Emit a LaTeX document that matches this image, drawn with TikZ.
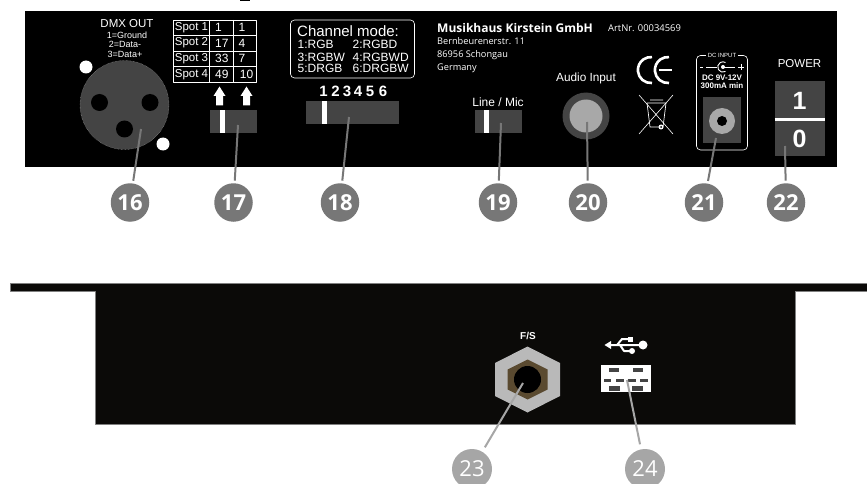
\documentclass[tikz,border=0pt]{standalone}
\usepackage{fontspec}
\setmainfont{Liberation Sans}
\newfontfamily\labelfont{Open Sans}
\newcommand{\fsize}[1]{\fontsize{#1}{#1}\selectfont}
\definecolor{panelblack}{HTML}{000000}
\definecolor{lowerblack}{HTML}{0B0A08}
\definecolor{slidergray}{HTML}{444444}
\definecolor{pingray}{HTML}{777777}
\definecolor{pinlight}{HTML}{A6A6A6}
\definecolor{jackgray}{HTML}{A8A8A8}
\definecolor{nutbrown}{HTML}{5A4A30}
\tikzset{
	paneltext/.style={text=white,inner sep=0pt},
	slider/.style={fill=slidergray,draw=none},
	callout/.style={circle,fill=pingray,text=white,inner sep=0pt,minimum size=38.5pt,font=\labelfont\fsize{22}\bfseries},
	calloutlight/.style={circle,fill=pinlight,text=white,inner sep=0pt,minimum size=40pt,font=\labelfont\fsize{22}},
	leader/.style={draw=pingray,line width=2pt,shorten >=2.5pt},
	leaderlight/.style={draw=pinlight,line width=2pt,shorten >=5pt},
}
\begin{document}
\begin{tikzpicture}[x=1pt,y=-1pt,line join=round]
	\useasboundingbox (0,0) rectangle (867,484);
	\fill (240,0) rectangle (250,1.5);
	% upper panel
	\fill[panelblack] (25,11) rectangle (837,167);
	% dmx socket
	\node[paneltext,font=\fsize{11.5}] (dmxtitle) at (127,24) {DMX OUT};
	\node[paneltext,font=\fsize{9}] (dmxa) at (127,35) {1=Ground};
	\node[paneltext,font=\fsize{9}] (dmxb) at (125,44.5) {2=Data-};
	\node[paneltext,font=\fsize{9}] (dmxc) at (125,54) {3=Data+};
	\fill[white] (86,67) circle (6.5) (163,144) circle (6.5);
	\draw[fill=slidergray,draw=pinlight,densely dotted,line width=.4pt] (124.5,105) circle (44.5);
	\fill[black] (99.5,102.5) circle (8.5) (150,102.5) circle (8.5) (124.5,129) circle (8.5);
	% address table
	\draw[white,line width=.6pt] (173.5,20) rectangle (256.5,82);
	\foreach \y in {35,51,66.5} \draw[white,line width=.6pt] (173.5,\y) -- (256.5,\y);
	\foreach \x in {209,233} \draw[white,line width=.6pt] (\x,20) -- (\x,82);
	\foreach \i/\y/\a/\b/\bx in {1/27.5/1/1/242,2/43/17/4/242,3/58.5/33/7/242,4/74.5/49/10/246.5}{
		\node[paneltext,font=\fsize{11.5}] (spot\i) at (191.5,\y) {Spot \i};
		\node[paneltext,font=\fsize{12},anchor=west] (first\i) at (215,\y) {\a};
		\node[paneltext,font=\fsize{12}] (second\i) at (\bx,\y) {\b};
	}
	\foreach \x in {219.5,246.5}
		\fill[white] (\x,86.5) -- (\x+6,96) -- (\x+3.5,96) -- (\x+3.5,105.5) -- (\x-3.5,105.5) -- (\x-3.5,96) -- (\x-6,96) -- cycle;
	\fill[slider] (209.5,110) rectangle (256.5,133);
	\fill[white] (220,110) rectangle (225,133);
	% channel mode
	\draw[white,rounded corners=4pt,line width=.6pt] (290.5,20) rectangle (414.5,78);
	\node[paneltext,font=\fsize{15},anchor=west] (modetitle) at (297,31) {Channel mode:};
	\foreach \i/\y/\a/\b in {1/44.5/1:RGB/2:RGBD,2/57/3:RGBW/4:RGBWD,3/68.5/5:DRGB/6:DRGBW}{
		\node[paneltext,font=\fsize{12},anchor=west] (modea\i) at (297.5,\y) {\a};
		\node[paneltext,font=\fsize{12},anchor=west] (modeb\i) at (352.5,\y) {\b};
	}
	\foreach \i/\x in {1/323.5,2/335.5,3/347,4/358,5/370,6/383}
		\node[paneltext,font=\fsize{15}\bfseries] (digit\i) at (\x,91) {\i};
	\fill[slider] (306,101) rectangle (399,124);
	\fill[white] (322,101) rectangle (326.5,124);
	% company block
	\node[paneltext,font=\labelfont\fsize{12}\bfseries,anchor=west] (company) at (437,28) {Musikhaus Kirstein GmbH};
	\node[paneltext,font=\labelfont\fsize{9.4},anchor=west] (artnr) at (608,28.5) {ArtNr. 00034569};
	\node[paneltext,font=\labelfont\fsize{9.2},anchor=west] (street) at (437,41) {Bernbeurenerstr. 11};
	\node[paneltext,font=\labelfont\fsize{9.2},anchor=west] (town) at (437,55) {86956 Schongau};
	\node[paneltext,font=\labelfont\fsize{9.2},anchor=west] (country) at (437,68) {Germany};
	% line and audio
	\node[paneltext,font=\fsize{12}] (linemic) at (498,102) {Line / Mic};
	\fill[slider] (475,110) rectangle (522,133);
	\fill[white] (484,110) rectangle (489,133);
	\node[paneltext,font=\fsize{11.8}] (audiotitle) at (586,78) {Audio Input};
	\fill[slidergray] (586,116) circle (23.5);
	\fill[jackgray] (586,116) circle (16.5);
	% ce and bin
	\draw[white,line width=2.6pt] (652,83) arc (85:275:13);
	\draw[white,line width=2.6pt] (669,83) arc (85:275:13);
	\draw[white,line width=2pt] (659,70) -- (672,70);
	\draw[white,line width=.6pt] (639,95) -- (673,134) (673,95) -- (639,134);
	\draw[white,line width=.7pt] (647,103) -- (666,103) -- (663,127) -- (650,127) -- cycle (650,100) -- (663,100);
	\fill[white] (661,127) circle (2.5);
	\fill[black] (661,127) circle (1);
	% dc input
	\draw[white,rounded corners=4pt,line width=.6pt] (696.5,55.5) rectangle (747.5,150);
	\node[paneltext,fill=black,inner xsep=1.5pt,font=\fsize{6}] (dctitle) at (722,55.5) {DC INPUT};
	\draw[white,line width=.9pt] (700,67) -- (703,67) (706,67) -- (717,67) (723,67) -- (735,67) (738,67) -- (744,67) (741,64) -- (741,70);
	\draw[white,line width=.9pt] (725.5,71.5) arc (60:300:5.2);
	\fill[white] (723,67) circle (2);
	\node[paneltext,font=\fsize{8}\bfseries] (dcvolt) at (722,78) {DC 9V-12V};
	\node[paneltext,font=\fsize{8}\bfseries] (dcamp) at (722,85.5) {300mA min};
	\fill[slider] (703,97.5) rectangle (741,143);
	\fill[jackgray] (722,121) circle (13);
	\fill[black] (722,121) circle (5);
	% power
	\node[paneltext,font=\fsize{11.5}] (powertitle) at (799.5,64) {POWER};
	\fill[slider] (774.5,81) rectangle (825,156);
	\draw[white,line width=2.5pt] (774.5,119.5) -- (825,119.5);
	\node[paneltext,font=\fsize{25}\bfseries] (powerone) at (799.5,101) {1};
	\node[paneltext,font=\fsize{25}\bfseries] (powerzero) at (799.5,139) {0};
	% lower panel
	\fill[lowerblack,draw=gray,line width=.4pt] (10,283.5) -- (867,283.5) -- (867,291) -- (795,291) -- (795,424) -- (95,424) -- (95,291) -- (10,291) -- cycle;
	\node[paneltext,font=\fsize{10}\bfseries] (fstitle) at (528,336) {F/S};
	\fill[jackgray!80!white] (527.5,346.5) -- (560,363) -- (560,396) -- (527.5,412.5) -- (495,396) -- (495,363) -- cycle;
	\fill[nutbrown] (527.5,359.5) -- (547.5,369.5) -- (547.5,389.5) -- (527.5,399.5) -- (507.5,389.5) -- (507.5,369.5) -- cycle;
	\fill[black] (527.5,379.5) circle (13.5);
	% usb
	\draw[white,line width=2pt] (610,345) -- (642,345) (617,345) -- (622,339) -- (630,339) (620,345) -- (624,351) -- (632,351);
	\fill[white] (604.5,345) -- (611,341) -- (611,349) -- cycle;
	\fill[white] (643,345) circle (4.5);
	\fill[white] (628,336.5) rectangle (633,341.5);
	\fill[white] (632,351) circle (3);
	\fill[white] (600.5,365) rectangle (651,392);
	\foreach \x in {609,633} \fill[slidergray] (\x,367.5) rectangle ++(10,4);
	\foreach \x in {603.5,616,628,640} \fill[slidergray] (\x,378.5) rectangle ++(7.5,3);
	\foreach \x in {608.5,632} \fill[slidergray] (\x,386) rectangle ++(11,4.5);
	% callouts
	\foreach \i/\x/\px/\py in {16/130/141/129,17/233.5/238/125,18/340/349/117,19/498/501/123,20/588/587/122,21/704/716/138,22/786/785/146}{
		\node[callout] (num\i) at (\x,202.5) {\i};
		\coordinate (pin\i) at (\px,\py);
		\draw[leader] (pin\i) -- (num\i);
	}
	\foreach \i/\x/\px/\py in {23/472/523/383,24/645/627/380}{
		\node[calloutlight] (num\i) at (\x,469) {\i};
		\coordinate (pin\i) at (\px,\py);
		\draw[leaderlight] (pin\i) -- (num\i);
	}
\end{tikzpicture}
\end{document}
